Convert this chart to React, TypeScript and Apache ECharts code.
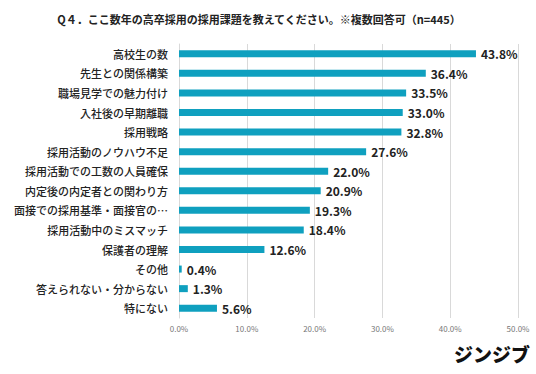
import React, { useEffect, useRef } from "react";
import * as echarts from "echarts";

const categories = [
  "高校生の数",
  "先生との関係構築",
  "職場見学での魅力付け",
  "入社後の早期離職",
  "採用戦略",
  "採用活動のノウハウ不足",
  "採用活動での工数の人員確保",
  "内定後の内定者との関わり方",
  "面接での採用基準・面接官の…",
  "採用活動中のミスマッチ",
  "保護者の理解",
  "その他",
  "答えられない・分からない",
  "特にない",
];
const values = [43.8, 36.4, 33.5, 33.0, 32.8, 27.6, 22.0, 20.9, 19.3, 18.4, 12.6, 0.4, 1.3, 5.6];
const titleText = "Q４．ここ数年の高卒採用の採用課題を教えてください。※複数回答可（n=445）";
const logoText = "ジンジブ";

const FONT = "'Noto Sans CJK JP', 'Noto Sans', sans-serif";

export default function App() {
  const ref = useRef<HTMLDivElement>(null);
  useEffect(() => {
    document.body.style.margin = "0";
    const chart = echarts.init(ref.current!, undefined, { renderer: "svg" });
    chart.setOption({
      animation: false,
      backgroundColor: "#ffffff",
      textStyle: { fontFamily: FONT },
      title: {
        text: titleText,
        left: 254,
        top: 8,
        textAlign: "center",
        textStyle: { fontSize: 11, fontWeight: "bold", color: "#222", fontFamily: FONT },
      },
      graphic: [
        {
          type: "text",
          right: 6,
          top: 344,
          style: {
            text: logoText,
            fontSize: 19,
            fontWeight: 900,
            fill: "#111",
            fontFamily: FONT,
          },
        },
      ],
      grid: { left: 179, right: 18, top: 44, bottom: 56, containLabel: false },
      xAxis: {
        type: "value",
        min: 0,
        max: 50,
        interval: 10,
        axisLine: { show: false },
        axisTick: { show: false },
        splitLine: { show: true, lineStyle: { color: "#d9d9d9", width: 1 } },
        axisLabel: {
          formatter: (v: number) => v.toFixed(1) + "%",
          fontSize: 8,
          color: "#777",
          margin: 6,
          fontFamily: FONT,
        },
      },
      yAxis: {
        type: "category",
        data: categories,
        inverse: true,
        axisLine: { show: true, lineStyle: { color: "#d9d9d9", width: 1 } },
        axisTick: { show: false },
        axisLabel: {
          fontSize: 11,
          color: "#222",
          margin: 11,
          fontWeight: 500,
          fontFamily: FONT,
        },
      },
      series: [
        {
          type: "bar",
          data: values,
          barWidth: 7,
          itemStyle: { color: "#0fa0bf" },
          label: {
            show: true,
            position: "right",
            distance: 5,
            formatter: (p: any) => p.value.toFixed(1) + "%",
            fontSize: 12,
            fontWeight: "bold",
            color: "#222",
            fontFamily: FONT,
          },
        },
      ],
    });
    return () => chart.dispose();
  }, []);
  return <div ref={ref} style={{ width: 536, height: 374 }} />;
}
